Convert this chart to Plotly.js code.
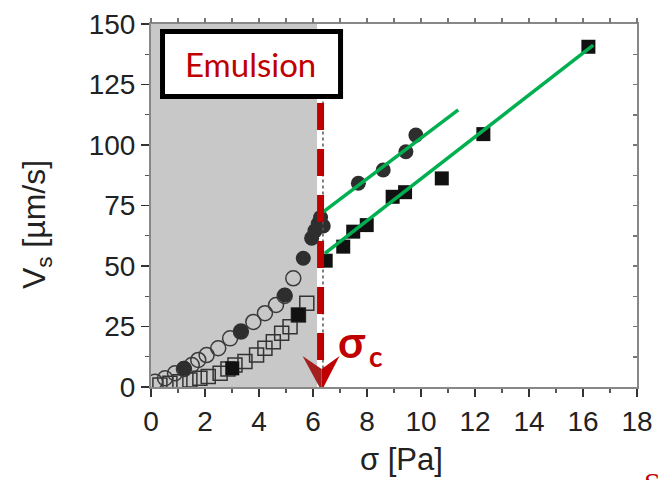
<!DOCTYPE html>
<html>
<head>
<meta charset="utf-8">
<script src="https://cdn.plot.ly/plotly-3.0.1.min.js"></script>
<style>html,body{margin:0;padding:0;background:#fff;}#chart{width:658px;height:480px;}</style>
</head>
<body>
<div id="chart"></div>
<script>
// ---- data ----
const filledCircleX = [1.23, 3.33, 4.96, 5.64, 5.95, 6.07, 6.19, 6.28, 6.38, 7.68, 8.60, 9.44, 9.81];
const filledCircleY = [7.7, 22.9, 38.0, 53.2, 61.5, 64.5, 67.4, 70.0, 66.5, 84.2, 89.7, 97.2, 104.1];

const filledSquareX = [3.01, 5.46, 6.47, 7.12, 7.49, 7.99, 8.95, 9.41, 10.77, 12.31, 16.20];
const filledSquareY = [7.7, 29.8, 52.2, 58.0, 64.2, 66.9, 78.6, 80.5, 86.2, 104.5, 140.6];

const openCircleX = [0.15, 0.52, 0.89, 1.22, 1.51, 1.75, 2.06, 2.49, 2.93, 3.33, 3.79, 4.22, 4.63, 4.95, 5.27];
const openCircleY = [2.2, 3.6, 5.7, 7.4, 9.1, 11.2, 13.2, 16.0, 20.1, 22.9, 26.9, 30.5, 33.9, 37.6, 44.9];

const openSquareX = [0.33, 0.70, 1.07, 1.44, 1.81, 2.12, 2.56, 2.85, 3.11, 3.48, 3.91, 4.22, 4.53, 4.84, 5.15, 5.46, 5.77];
const openSquareY = [0.8, 1.5, 2.2, 2.9, 3.6, 4.3, 5.7, 7.4, 9.1, 10.5, 13.2, 16.0, 18.7, 22.2, 24.9, 29.8, 34.6];

const fitCirclesX = [6.38, 11.38];
const fitCirclesY = [72.4, 114.5];
const fitSquaresX = [6.44, 16.38];
const fitSquaresY = [55.2, 141.3];

const sigmaC = 6.28;          // critical stress
const emulsionEnd = 6.15;     // end of shaded emulsion region
const xTickVals = [0, 2, 4, 6, 8, 10, 12, 14, 16, 18];
const yTickVals = [0, 25, 50, 75, 100, 125, 150];

// ---- styles ----
const RED = '#c00000';
const GREEN = '#00b050';
const tickFont = {family: 'Liberation Sans, Arial, sans-serif', size: 28, color: '#222'};

const traces = [
  {x: openSquareX, y: openSquareY, type: 'scatter', mode: 'markers',
   marker: {symbol: 'square-open', size: 14, color: '#333', line: {width: 1.5}}, hoverinfo: 'skip'},
  {x: openCircleX, y: openCircleY, type: 'scatter', mode: 'markers',
   marker: {symbol: 'circle-open', size: 15, color: '#3a3a3a', line: {width: 1.5}}, hoverinfo: 'skip'},
  {x: filledSquareX, y: filledSquareY, type: 'scatter', mode: 'markers',
   marker: {symbol: 'square', size: 14, color: '#111'}, hoverinfo: 'skip'},
  {x: filledCircleX, y: filledCircleY, type: 'scatter', mode: 'markers',
   marker: {symbol: 'circle', size: 15, color: '#2e2e2e'}, hoverinfo: 'skip'},
  {x: fitCirclesX, y: fitCirclesY, type: 'scatter', mode: 'lines',
   line: {color: GREEN, width: 3.5}, hoverinfo: 'skip'},
  {x: fitSquaresX, y: fitSquaresY, type: 'scatter', mode: 'lines',
   line: {color: GREEN, width: 3.5}, hoverinfo: 'skip'},
  {x: [], y: [], xaxis: 'x2', yaxis: 'y2', type: 'scatter', mode: 'markers', hoverinfo: 'skip'}
];

const layout = {
  width: 658, height: 480,
  margin: {l: 151, r: 21, t: 24, b: 93},
  paper_bgcolor: '#fff', plot_bgcolor: '#fff',
  showlegend: false,
  xaxis: {
    range: [0, 18], tickvals: xTickVals, ticktext: xTickVals.map(String),
    ticks: 'outside', ticklen: 8, tickwidth: 1.5, tickcolor: '#333',
    minor: {dtick: 1, ticks: 'outside', ticklen: 4, tickwidth: 1.2, tickcolor: '#555'},
    showline: true, linecolor: '#888', linewidth: 2, mirror: true,
    showgrid: false, zeroline: false, tickfont: tickFont
  },
  yaxis: {
    range: [0, 150], tickvals: yTickVals, ticktext: yTickVals.map(String),
    ticks: 'outside', ticklen: 8, tickwidth: 1.5, tickcolor: '#333',
    minor: {dtick: 12.5, ticks: 'outside', ticklen: 4, tickwidth: 1.2, tickcolor: '#555'},
    showline: true, linecolor: '#888', linewidth: 2, mirror: true,
    showgrid: false, zeroline: false, tickfont: tickFont
  },
  xaxis2: {overlaying: 'x', side: 'top', range: [0, 18], dtick: 1, ticks: 'outside',
    ticklen: 5, tickwidth: 1.5, tickcolor: '#777', showticklabels: false, showgrid: false,
    zeroline: false, showline: false},
  yaxis2: {overlaying: 'y', side: 'right', range: [0, 150], dtick: 12.5, ticks: 'inside',
    ticklen: 4, tickwidth: 1.5, tickcolor: '#777', showticklabels: false, showgrid: false,
    zeroline: false, showline: false},
  shapes: [
    {type: 'rect', xref: 'x', yref: 'paper', x0: 0, x1: emulsionEnd, y0: 0, y1: 1,
     fillcolor: '#c8c8c8', line: {width: 0}, layer: 'below'},
    {type: 'line', xref: 'x', yref: 'y', x0: sigmaC + 0.09, x1: sigmaC + 0.09, y0: 118, y1: 0,
     line: {color: '#555', width: 1.5, dash: 'dot'}, layer: 'above'},
    {type: 'line', xref: 'x', yref: 'y', x0: sigmaC, x1: sigmaC, y0: 117.4, y1: 9.5,
     line: {color: RED, width: 7, dash: '27px,19px'}, layer: 'above'},
    {type: 'path', xref: 'x', yref: 'y', xsizemode: 'pixel', ysizemode: 'pixel',
     xanchor: sigmaC, yanchor: 0, path: 'M -18,31 L 1,-4 L 1,18 Z',
     fillcolor: '#a3201e', line: {width: 0}, layer: 'above'},
    {type: 'path', xref: 'x', yref: 'y', xsizemode: 'pixel', ysizemode: 'pixel',
     xanchor: sigmaC, yanchor: 0, path: 'M 1,18 L 1,-4 L 19,31 Z',
     fillcolor: RED, line: {width: 0}, layer: 'above'},
    {type: 'rect', xref: 'paper', yref: 'paper', x0: 0.0237, x1: 0.390, y0: 0.800, y1: 0.979,
     fillcolor: '#fff', line: {color: '#000', width: 5}, layer: 'above'}
  ],
  annotations: [
    {text: 'Emulsion', xref: 'paper', yref: 'paper', x: 0.2047, y: 0.89,
     xanchor: 'center', yanchor: 'middle', showarrow: false,
     font: {family: 'Lato, sans-serif', size: 33, color: RED}},
    {text: '<b>σ</b>', xref: 'paper', yref: 'paper', x: 0.4146, y: 0.1267,
     xanchor: 'center', yanchor: 'middle', showarrow: false,
     font: {family: 'Lato, sans-serif', size: 44, color: RED}},
    {text: '<b>c</b>', xref: 'paper', yref: 'paper', x: 0.463, y: 0.0854,
     xanchor: 'center', yanchor: 'middle', showarrow: false,
     font: {family: 'Lato, sans-serif', size: 28, color: RED}},
    {text: 'σ [Pa]', xref: 'paper', yref: 'paper', x: 0.516, y: -0.201,
     xanchor: 'center', yanchor: 'middle', showarrow: false,
     font: {family: 'Liberation Sans, Arial, sans-serif', size: 31, color: '#222'}},
    {text: 'V<sub>s</sub> [µm/s]', xref: 'paper', yref: 'paper', x: -0.2366, y: 0.446,
     xanchor: 'center', yanchor: 'middle', showarrow: false, textangle: -90,
     font: {family: 'Liberation Sans, Arial, sans-serif', size: 32, color: '#222'}},
    {text: 'S', xref: 'paper', yref: 'paper', x: 1.031, y: -0.212,
     xanchor: 'center', yanchor: 'top', showarrow: false,
     font: {family: 'Liberation Serif, serif', size: 30, color: RED}}
  ]
};

Plotly.newPlot('chart', traces, layout, {staticPlot: true, displayModeBar: false});
</script>
</body>
</html>
